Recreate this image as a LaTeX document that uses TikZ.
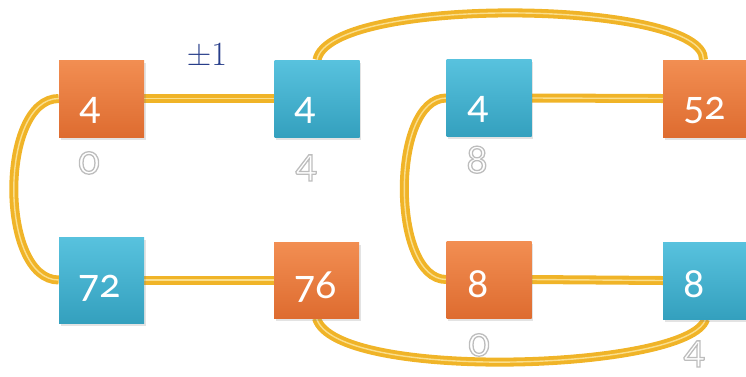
\documentclass[tikz,border=0pt]{standalone}
\usepackage{fontspec}
\newfontfamily\digitfont[Numbers=OldStyle]{Carlito}
\usetikzlibrary{calc,shadows,backgrounds}

\definecolor{orangetop}{RGB}{242,142,82}
\definecolor{orangebot}{RGB}{222,108,48}
\definecolor{bluetop}{RGB}{88,194,222}
\definecolor{bluebot}{RGB}{52,160,190}
\definecolor{linkgold}{RGB}{240,180,40}
\definecolor{linklight}{RGB}{250,222,140}
\definecolor{signblue}{RGB}{40,62,138}

\tikzset{
  tile/.style={minimum width=85pt, minimum height=77pt, inner sep=0pt,
    drop shadow={opacity=0.22, shadow xshift=1.5pt, shadow yshift=-2.5pt}},
  orangetile/.style={tile, top color=orangetop, bottom color=orangebot},
  bluetile/.style={tile, top color=bluetop, bottom color=bluebot},
  digit/.style={font=\digitfont\fontsize{42}{42}\selectfont, text=white,
    anchor=base west, inner sep=0pt},
  weight/.style={font=\digitfont\fontsize{42}{42}\selectfont, text=white,
    anchor=base, inner sep=0pt},
  link/.style={draw=linkgold, line width=9pt,
    postaction={draw=linklight, line width=1.4pt}},
}

% white figure, filled and then stroked with a thin grey rim
\newcommand\rimmed[1]{%
  \special{pdf:literal direct 2 Tr 1.3 w 0.74 G}#1\special{pdf:literal direct 0 Tr}}

\begin{document}
\begin{tikzpicture}[x=1pt, y=-1pt]
\useasboundingbox (0,0) rectangle (746,376);

% tiles, top row
\node[orangetile] (t1) at (101.5,98.5) {};
\node[bluetile]   (t2) at (317,98.5) {};
\node[bluetile]   (t3) at (489,98) {};
\node[orangetile] (t4) at (705.5,98.5) {};
% tiles, bottom row
\node[bluetile, minimum height=86pt] (b1) at (101.5,280) {};
\node[orangetile, minimum height=76pt] (b2) at (316.5,280) {};
\node[orangetile] (b3) at (489,279.5) {};
\node[bluetile]   (b4) at (705.5,280.5) {};

% figures inside the tiles
\node[digit] (t1n) at ($(t1.west)+(20,20.5)$) {4};
\node[digit] (t2n) at ($(t2.west)+(20,20.5)$) {4};
\node[digit] (t3n) at ($(t3.west)+(21,20.5)$) {4};
\node[digit] (t4n) at ($(t4.west)+(20,20.5)$) {52};
\node[digit] (b1n) at ($(b1.west)+(19,17)$) {72};
\node[digit] (b2n) at ($(b2.west)+(20,18)$) {76};
\node[digit] (b3n) at ($(b3.west)+(21,17.5)$) {8};
\node[digit] (b4n) at ($(b4.west)+(20,17)$) {8};

% edge weight
\node[font=\fontsize{34}{34}\selectfont, text=signblue, anchor=base, inner sep=0pt]
  (pm) at (207,65) {±1};

% figures under the tiles
\node[weight] (t1w) at (89,174)  {\rimmed{0}};
\node[weight] (t2w) at (306,177) {\rimmed{4}};
\node[weight] (t3w) at (477,173) {\rimmed{8}};
\node[weight] (b3w) at (479,356) {\rimmed{0}};
\node[weight] (b4w) at (694,363) {\rimmed{4}};

% connectors
\begin{scope}[on background layer]
  \draw[link] (t1.east) -- (t2.west);
  \draw[link] (t3.east) -- (t4.west);
  \draw[link] (b1.east) -- (b2.west);
  \draw[link] (b3.east) -- (b4.west);
  \draw[link] (t1.west) .. controls +(-60,0) and +(-60,0) .. (b1.west);
  \draw[link] (t3.west) .. controls +(-56,0) and +(-56,0) .. (b3.west);
  \draw[link] (t2.north) .. controls +(13,-65) and +(2,-60) .. ([xshift=-2pt]t4.north);
  \draw[link] (b2.south) .. controls +(18.5,64) and +(-15.5,51.5) .. (b4.south);
\end{scope}
\end{tikzpicture}
\end{document}
